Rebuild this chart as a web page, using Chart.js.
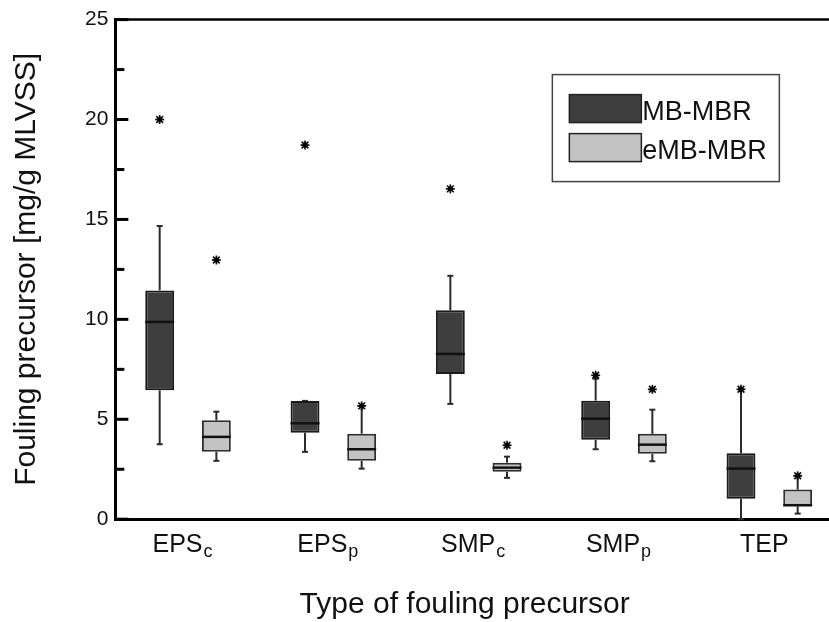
<!DOCTYPE html>
<html>
<head>
<meta charset="utf-8">
<script src="https://cdn.jsdelivr.net/npm/chart.js@4.4.1/dist/chart.umd.min.js"></script>
<style>
  html, body { margin: 0; padding: 0; background: #fff; overflow: hidden; }
  /* plot runs past the right edge of the window, like the cropped original */
  #wrap { position: relative; width: 844px; height: 622px; }
</style>
</head>
<body>
<div id="wrap"><canvas id="chart"></canvas></div>
<script>
// categories (main text + subscript)
const categoryMain = ['EPS', 'EPS', 'SMP', 'SMP', 'TEP'];
const categorySub = ['c', 'p', 'c', 'p', ''];
const seriesNames = ['MB-MBR', 'eMB-MBR'];
const xTitle = 'Type of fouling precursor';
const yTitle = 'Fouling precursor [mg/g MLVSS]';

// MB-MBR box stats
const mbMin = [3.75, 3.37, 5.77, 3.5, 0];
const mbQ1 = [6.45, 4.33, 7.27, 3.97, 1.02];
const mbMedian = [9.87, 4.8, 8.27, 5.03, 2.53];
const mbQ3 = [11.45, 5.92, 10.45, 5.93, 3.3];
const mbMax = [14.67, 5.92, 12.18, 7.03, 6.5];
const mbOutliers = [[20.0], [18.72], [16.53], [7.2], [6.5]];

// eMB-MBR box stats
const embMin = [2.92, 2.53, 2.07, 2.9, 0.28];
const embQ1 = [3.37, 2.92, 2.37, 3.27, 0.65];
const embMedian = [4.12, 3.5, 2.58, 3.73, 0.7];
const embQ3 = [4.95, 4.28, 2.83, 4.27, 1.48];
const embMax = [5.38, 5.67, 3.13, 5.48, 2.17];
const embOutliers = [[12.97], [5.67], [3.7], [6.5], [2.17]];

const FONT = "'Liberation Sans', Arial, Helvetica, sans-serif";

function line(ctx, x1, y1, x2, y2) {
  ctx.beginPath();
  ctx.moveTo(x1, y1);
  ctx.lineTo(x2, y2);
  ctx.stroke();
}

// whiskers go under the boxes
const whiskers = {
  id: 'whiskers',
  beforeDatasetsDraw(chart) {
    const ctx = chart.ctx;
    const y = chart.scales.y;
    chart.data.datasets.forEach((ds, di) => {
      const meta = chart.getDatasetMeta(di);
      meta.data.forEach((bar, i) => {
        const x = bar.x;
        const lo = y.getPixelForValue(ds.stats.min[i]);
        const hi = y.getPixelForValue(ds.stats.max[i]);
        ctx.save();
        ctx.strokeStyle = '#2b2b2b';
        ctx.lineWidth = 2;
        line(ctx, x, lo, x, y.getPixelForValue(ds.data[i][0]));
        line(ctx, x, hi, x, y.getPixelForValue(ds.data[i][1]));
        line(ctx, x - 3, lo, x + 3, lo);
        line(ctx, x - 3, hi, x + 3, hi);
        ctx.restore();
      });
    });
  },
  afterDatasetsDraw(chart) {
    const ctx = chart.ctx;
    const y = chart.scales.y;
    chart.data.datasets.forEach((ds, di) => {
      const meta = chart.getDatasetMeta(di);
      meta.data.forEach((bar, i) => {
        const x = bar.x;
        const half = bar.width / 2;
        ctx.save();
        // median
        ctx.strokeStyle = '#111';
        ctx.lineWidth = 2.5;
        const m = y.getPixelForValue(ds.stats.median[i]);
        line(ctx, x - half, m, x + half, m);
        // outliers as small asterisks
        ctx.lineWidth = 1.7;
        ctx.fillStyle = '#000';
        ds.stats.outliers[i].forEach(v => {
          const py = y.getPixelForValue(v);
          const r = 4.5;
          line(ctx, x - r, py, x + r, py);
          line(ctx, x, py - r, x, py + r);
          line(ctx, x - r * 0.75, py - r * 0.75, x + r * 0.75, py + r * 0.75);
          line(ctx, x - r * 0.75, py + r * 0.75, x + r * 0.75, py - r * 0.75);
          ctx.beginPath();
          ctx.arc(x, py, 2.5, 0, Math.PI * 2);
          ctx.fill();
        });
        ctx.restore();
      });
    });
  }
};

// inward ticks, top frame line, subscripted category labels, x title, legend
const decorations = {
  id: 'decorations',
  afterDraw(chart) {
    const ctx = chart.ctx;
    const area = chart.chartArea;
    const y = chart.scales.y;
    const x = chart.scales.x;
    ctx.save();
    ctx.strokeStyle = '#000';

    ctx.lineWidth = 2.5;
    line(ctx, area.left, area.top, area.right, area.top);

    ctx.lineWidth = 3;
    y.ticks.forEach(t => {
      const py = y.getPixelForValue(t.value);
      const len = t.value % 5 === 0 ? 13 : 9;
      line(ctx, area.left, py, area.left + len, py);
    });

    // x labels with subscripts
    ctx.fillStyle = '#111';
    ctx.textBaseline = 'alphabetic';
    ctx.textAlign = 'left';
    categoryMain.forEach((txt, i) => {
      const px = x.getPixelForValue(i);
      ctx.font = '25px ' + FONT;
      const mw = ctx.measureText(txt).width;
      ctx.font = '18px ' + FONT;
      const sw = categorySub[i] ? ctx.measureText(categorySub[i]).width + 2 : 0;
      const start = px - (mw + sw) / 2 - 5;
      const base = area.bottom + 33;
      ctx.font = '25px ' + FONT;
      ctx.fillText(txt, start, base);
      if (categorySub[i]) {
        ctx.font = '18px ' + FONT;
        ctx.fillText(categorySub[i], start + mw + 1, base + 5);
      }
    });

    // x title, centred a little left of the (cropped) plot centre
    ctx.font = '30px ' + FONT;
    ctx.textAlign = 'center';
    ctx.textBaseline = 'middle';
    ctx.fillText(xTitle, (area.left + area.right) / 2 - 14, x.bottom - 15);

    // legend box
    ctx.textAlign = 'left';
    ctx.textBaseline = 'alphabetic';
    const lx = area.left + 437, ly = area.top + 55;
    ctx.lineWidth = 1.5;
    ctx.strokeStyle = '#444';
    ctx.strokeRect(lx, ly, 227, 107);
    chart.data.datasets.forEach((ds, di) => {
      const sy = ly + 20 + di * 39;
      ctx.fillStyle = ds.backgroundColor;
      ctx.fillRect(lx + 17, sy, 72, 28);
      ctx.strokeStyle = '#222';
      ctx.lineWidth = 1.5;
      ctx.strokeRect(lx + 17, sy, 72, 28);
      ctx.fillStyle = '#111';
      ctx.font = '27px ' + FONT;
      ctx.fillText(ds.label, lx + 90, sy + 25);
    });
    ctx.restore();
  }
};

new Chart(document.getElementById('chart'), {
  type: 'bar',
  data: {
    labels: categoryMain.map((m, i) => m + categorySub[i]),
    datasets: [
      {
        label: seriesNames[0],
        data: mbQ1.map((v, i) => [v, mbQ3[i]]),
        stats: { min: mbMin, median: mbMedian, max: mbMax, outliers: mbOutliers },
        backgroundColor: '#3e3e3e',
        borderColor: '#1a1a1a',
        borderWidth: 2,
        borderSkipped: false,
        categoryPercentage: 0.78,
        barPercentage: 0.51
      },
      {
        label: seriesNames[1],
        data: embQ1.map((v, i) => [v, embQ3[i]]),
        stats: { min: embMin, median: embMedian, max: embMax, outliers: embOutliers },
        backgroundColor: '#c3c3c3',
        borderColor: '#2e2e2e',
        borderWidth: 2,
        borderSkipped: false,
        categoryPercentage: 0.78,
        barPercentage: 0.51
      }
    ]
  },
  options: {
    responsive: true,
    maintainAspectRatio: false,
    animation: false,
    layout: { padding: { top: 12, left: 4, right: 2, bottom: 2 } },
    plugins: {
      legend: { display: false },
      tooltip: { enabled: false }
    },
    scales: {
      x: {
        grid: { display: false, drawTicks: false },
        border: { display: true, color: '#000', width: 3 },
        ticks: { color: 'rgba(0,0,0,0)', font: { size: 24, family: FONT }, padding: 12 },
        title: {
          // keeps the room; the visible title is drawn by the decorations plugin
          display: true,
          text: xTitle,
          color: 'rgba(0,0,0,0)',
          font: { size: 30, family: FONT, lineHeight: 1 },
          padding: { top: 18, bottom: 0 }
        }
      },
      y: {
        min: 0,
        max: 25,
        grid: { display: false, drawTicks: false },
        border: { display: true, color: '#000', width: 3 },
        ticks: {
          stepSize: 2.5,
          autoSkip: false,
          padding: 7,
          color: '#111',
          font: { size: 21, family: FONT },
          callback: v => (v % 5 === 0 ? v : '')
        },
        title: {
          display: true,
          text: yTitle,
          color: '#111',
          font: { size: 30, family: FONT, lineHeight: 1 },
          padding: { top: 8, bottom: 36 }
        }
      }
    }
  },
  plugins: [whiskers, decorations]
});
</script>
</body>
</html>
